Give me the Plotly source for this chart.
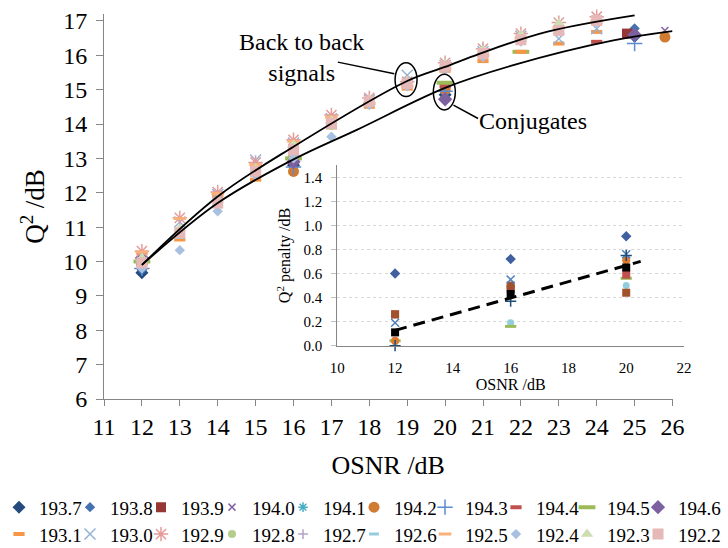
import numpy as np
import plotly.graph_objects as go

FONT = "Liberation Serif"

# ---------------- data ----------------
b2b_osnr = [12, 13, 14, 15, 16, 17, 18, 19, 20, 21, 22, 23, 24]

s193_1 = [10.25, 10.64, 11.90, 12.38, 13.10, 13.90, 14.50, 15.03, 15.55, 15.83, 16.10, 16.34, 16.68]
s193_0 = [10.15, 11.15, 11.95, 12.95, 13.45, 14.15, 14.70, 15.42, 15.70, 16.10, 16.55, 16.48, 16.77]
s192_9 = [10.30, 11.27, 12.02, 12.88, 13.54, 14.26, 14.76, 15.23, 15.78, 16.19, 16.63, 16.95, 17.12]
s192_8 = [9.95, 10.85, 11.65, 12.60, 13.35, 13.95, 14.60, 15.15, 15.65, 16.05, 16.45, 16.75, 17.00]
s192_7 = [10.10, 10.90, 11.80, 12.75, 13.40, 14.05, 14.70, 15.30, 15.75, 16.19, 16.50, 16.80, 17.00]
s192_6 = [9.90, 10.70, 11.60, 12.50, 13.10, 13.90, 14.55, 15.10, 15.60, 16.00, 16.40, 16.75, 16.95]
s192_5 = [10.28, 11.25, 11.98, 12.82, 13.50, 14.20, 14.60, 15.10, 15.60, 16.00, 16.50, 16.80, 17.00]
s192_4 = [9.80, 10.33, 11.46, 12.50, 13.00, 13.63, 14.55, 15.10, 15.60, 15.95, 16.40, 16.70, 16.95]
s192_3 = [10.10, 10.95, 11.80, 12.70, 13.40, 14.10, 14.70, 15.25, 15.75, 16.15, 16.60, 16.92, 17.26]
s192_2 = [9.96, 10.83, 11.70, 12.62, 13.25, 14.02, 14.65, 15.18, 15.68, 16.05, 16.45, 16.72, 17.01]

c193_7_x = [12, 16, 20, 25];   c193_7_y = [9.67, 12.80, 14.85, 16.55]
c193_8_x = [12, 16, 20, 25];   c193_8_y = [9.75, 12.85, 14.90, 16.78]
c193_9_x = [12, 16, 20, 24.8]; c193_9_y = [9.90, 12.95, 15.10, 16.63]
c194_0_x = [12, 16, 20, 25.8]; c194_0_y = [10.10, 13.10, 15.10, 16.72]
c194_1_x = [12, 16, 20, 25];   c194_1_y = [9.85, 12.90, 15.03, 16.58]
c194_2_x = [12, 16, 20, 25.8]; c194_2_y = [9.90, 12.62, 15.00, 16.53]
c194_3_x = [12, 16, 20, 25];   c194_3_y = [9.80, 12.75, 14.95, 16.34]
c194_4_x = [12, 16, 20, 24];   c194_4_y = [9.95, 12.90, 15.10, 16.39]
c194_5_x = [12, 16, 20, 22];   c194_5_y = [10.00, 13.00, 15.20, 16.10]
c194_6_x = [12, 16, 20, 25];   c194_6_y = [10.10, 12.90, 14.72, 16.60]

# trend lines
b2b_trend_x = [12, 14, 16, 19, 20, 20.92, 22.68, 25]
b2b_trend_y = [9.90, 11.89, 13.34, 15.25, 15.66, 16.05, 16.68, 17.16]
conj_trend_x = [12, 14, 16, 17.67, 20, 21.8, 24.44, 26]
conj_trend_y = [9.90, 11.70, 12.97, 13.83, 15.05, 15.71, 16.43, 16.70]

# inset: Q^2 penalty
ins_osnr = [12, 16, 20]
ins_193_8 = [0.60, 0.72, 0.91]
ins_193_9 = [0.26, 0.50, 0.44]
ins_194_1 = [0.19, 0.55, 0.76]
ins_194_2 = [0.04, 0.49, 0.71]
ins_194_3 = [0.00, 0.37, 0.75]
ins_194_4 = [0.26, 0.47, 0.59]
ins_194_5 = [0.04, 0.16, 0.56]
ins_194_6 = [0.03, 0.19, 0.50]
ins_mean = [0.11, 0.43, 0.65]
ins_fit_range = [12, 20.5]

x_ticks = list(range(11, 27))
y_ticks = list(range(6, 18))

# ---------------- styles ----------------
conj_series = [
    ("193.7", c193_7_x, c193_7_y, dict(symbol="diamond", size=10, color="#254A7E")),
    ("193.8", c193_8_x, c193_8_y, dict(symbol="diamond", size=8, color="#4472B0")),
    ("193.9", c193_9_x, c193_9_y, dict(symbol="square", size=10, color="#953735")),
    ("194.0", c194_0_x, c194_0_y, dict(symbol="x-thin", size=7, color="#8064A2", line=dict(width=1.5, color="#8064A2"))),
    ("194.1", c194_1_x, c194_1_y, dict(symbol="asterisk", size=8, color="#4BACC6", line=dict(width=1.5, color="#4BACC6"))),
    ("194.2", c194_2_x, c194_2_y, dict(symbol="circle", size=11, color="#D07A32")),
    ("194.3", c194_3_x, c194_3_y, dict(symbol="cross-thin", size=11, color="#5B8BD0", line=dict(width=1.5, color="#5B8BD0"))),
    ("194.4", c194_4_x, c194_4_y, dict(symbol="line-ew", size=8, color="#C0504D", line=dict(width=4, color="#C0504D"))),
    ("194.5", c194_5_x, c194_5_y, dict(symbol="line-ew", size=12, color="#9BBB59", line=dict(width=4, color="#9BBB59"))),
    ("194.6", c194_6_x, c194_6_y, dict(symbol="diamond", size=11, color="#7D60A0")),
]
b2b_series = [
    ("193.1", s193_1, dict(symbol="line-ew", size=8, color="#F79646", line=dict(width=4, color="#F79646"))),
    ("193.0", s193_0, dict(symbol="x-thin", size=11, color="#95B3D7", line=dict(width=1.5, color="#95B3D7"))),
    ("192.9", s192_9, dict(symbol="asterisk", size=12, color="#E49B99", line=dict(width=1.5, color="#E49B99"))),
    ("192.8", s192_8, dict(symbol="circle", size=8, color="#B5CC8C")),
    ("192.7", s192_7, dict(symbol="cross-thin", size=7, color="#B3A2C7", line=dict(width=1.5, color="#B3A2C7"))),
    ("192.6", s192_6, dict(symbol="line-ew", size=7, color="#93CDDD", line=dict(width=3, color="#93CDDD"))),
    ("192.5", s192_5, dict(symbol="line-ew", size=9, color="#FAB07A", line=dict(width=3, color="#FAB07A"))),
    ("192.4", s192_4, dict(symbol="diamond", size=8, color="#A9C0E0")),
    ("192.3", s192_3, dict(symbol="triangle-up", size=11, color="#CFDDB3")),
    ("192.2", s192_2, dict(symbol="square", size=11, color="#E6B9B8")),
]

ENTRY_W = 26      # legend text slot for every entry but the last of a row
LAST_W = 44       # last entry of a row keeps room for its whole label

fig = go.Figure()

for i, (name, xs, ys, mk) in enumerate(conj_series):
    fig.add_trace(go.Scatter(x=xs, y=ys, mode="markers", name=name, marker=mk, legend="legend",
                             legendwidth=LAST_W if i == len(conj_series) - 1 else ENTRY_W,
                             cliponaxis=False, xaxis="x", yaxis="y"))
for i, (name, ys, mk) in enumerate(b2b_series):
    fig.add_trace(go.Scatter(x=b2b_osnr, y=ys, mode="markers", name=name, marker=mk, legend="legend2",
                             legendwidth=LAST_W if i == len(b2b_series) - 1 else ENTRY_W,
                             cliponaxis=False, xaxis="x", yaxis="y"))

# trend curves
fig.add_trace(go.Scatter(x=b2b_trend_x, y=b2b_trend_y, mode="lines", line=dict(color="black", width=1.8, shape="spline"),
                         showlegend=False, hoverinfo="skip", xaxis="x", yaxis="y"))
fig.add_trace(go.Scatter(x=conj_trend_x, y=conj_trend_y, mode="lines", line=dict(color="black", width=1.8, shape="spline"),
                         showlegend=False, hoverinfo="skip", xaxis="x", yaxis="y"))

# inset
inset_series = [
    (ins_194_6, dict(symbol="circle", size=7, color="#93CDDD")),
    (ins_194_5, dict(symbol="line-ew", size=8, color="#9BBB59", line=dict(width=3, color="#9BBB59"))),
    (ins_194_2, dict(symbol="circle", size=8, color="#E07B2E")),
    (ins_194_4, dict(symbol="square", size=8, color="#C0504D")),
    (ins_193_9, dict(symbol="square", size=8, color="#A0522D")),
    (ins_194_1, dict(symbol="x-thin", size=8, color="#4F81BD", line=dict(width=1.5, color="#4F81BD"))),
    (ins_194_3, dict(symbol="cross-thin", size=8, color="#1F4E79", line=dict(width=1.5, color="#1F4E79"))),
    (ins_193_8, dict(symbol="diamond", size=8, color="#3F5F9F")),
    (ins_mean, dict(symbol="square", size=8, color="black")),
]
for ys, mk in inset_series:
    fig.add_trace(go.Scatter(x=ins_osnr, y=ys, mode="markers", marker=mk, showlegend=False,
                             cliponaxis=False, xaxis="x2", yaxis="y2"))

coef = np.polyfit(ins_osnr, ins_mean, 1)
fit_x = np.array(ins_fit_range)
fig.add_trace(go.Scatter(x=fit_x, y=np.polyval(coef, fit_x), mode="lines",
                         line=dict(color="black", width=3, dash="12px,7px"),
                         showlegend=False, hoverinfo="skip", xaxis="x2", yaxis="y2"))

axis_gray = "#868686"
ML, MR, MT, MB = 104, 0, 13.6, 148.5
PW = 728.0 - ML - MR
PH = 548.0 - MT - MB
Y0 = 548.0 - MB


def px_x(p):
    return (p - ML) / PW


def px_y(p):
    return (Y0 - p) / PH


legend_common = dict(orientation="h", xanchor="left", yanchor="top", font=dict(size=19, family=FONT),
                     bgcolor="rgba(0,0,0,0)", itemsizing="trace", x=px_x(-1))

fig.update_layout(
    width=728, height=548,
    margin=dict(l=ML, r=MR, t=MT, b=MB, autoexpand=False),
    paper_bgcolor="white", plot_bgcolor="rgba(0,0,0,0)",
    font=dict(family=FONT, color="black"),
    showlegend=True,
    legend=dict(**legend_common, y=px_y(489)),
    legend2=dict(**legend_common, y=px_y(516)),
    xaxis=dict(domain=[0, px_x(672.5)], range=[11, 26], tickvals=x_ticks,
               showline=True, linecolor=axis_gray, linewidth=1, ticks="outside", ticklen=6, tickcolor=axis_gray,
               showgrid=False, zeroline=False, tickfont=dict(size=24, family=FONT),
               title=dict(text="OSNR /dB", font=dict(size=26, family=FONT), standoff=17)),
    yaxis=dict(domain=[0, 1], range=[6, 17.2], tickvals=y_ticks,
               showline=True, linecolor=axis_gray, linewidth=1, ticks="outside", ticklen=7, tickcolor=axis_gray,
               showgrid=False, zeroline=False, tickfont=dict(size=24, family=FONT), ticklabelstandoff=4,
               title=dict(text="Q<sup>2</sup> /dB", font=dict(size=27, family=FONT), standoff=10)),
    xaxis2=dict(domain=[px_x(337.3), px_x(684)], range=[10, 22], dtick=2, anchor="y2",
                showline=True, linecolor=axis_gray, linewidth=1, ticks="", showgrid=False, zeroline=False,
                tickfont=dict(size=15, family=FONT), ticklabelstandoff=8,
                title=dict(text="OSNR /dB", font=dict(size=16, family=FONT), standoff=0)),
    yaxis2=dict(domain=[px_y(346), px_y(165.25)], range=[0, 1.5], anchor="x2",
                tickvals=[0, 0.2, 0.4, 0.6, 0.8, 1.0, 1.2, 1.4], tickformat=".1f",
                showline=True, linecolor=axis_gray, linewidth=1, ticks="outside", ticklen=5, tickcolor="#BFBFBF",
                showgrid=True, gridcolor="#D9D9D9", griddash="dot", gridwidth=1, zeroline=False,
                tickfont=dict(size=15, family=FONT), ticklabelstandoff=6,
                title=dict(text="Q<sup>2</sup> penalty /dB", font=dict(size=16, family=FONT), standoff=8)),
)

# ellipses and leader lines for the annotations
fig.add_shape(type="circle", xref="x", yref="y", x0=18.68, x1=19.26, y0=14.80, y1=15.78,
              line=dict(color="black", width=1.5))
fig.add_shape(type="circle", xref="x", yref="y", x0=19.69, x1=20.27, y0=14.41, y1=15.45,
              line=dict(color="black", width=1.5))
fig.add_shape(type="line", xref="x", yref="y", x0=17.17, y0=15.80, x1=18.66, y1=15.46,
              line=dict(color="black", width=1.5))
fig.add_shape(type="line", xref="x", yref="y", x0=20.22, y0=14.55, x1=20.87, y1=14.16,
              line=dict(color="black", width=1.5))

fig.add_annotation(x=16.22, y=15.94, xref="x", yref="y", text="Back to back<br>signals", showarrow=False,
                   font=dict(size=24, family=FONT, color="black"), align="center")
fig.add_annotation(x=22.32, y=14.08, xref="x", yref="y", text="Conjugates", showarrow=False,
                   font=dict(size=24, family=FONT, color="black"))

fig.write_html("out.html")
